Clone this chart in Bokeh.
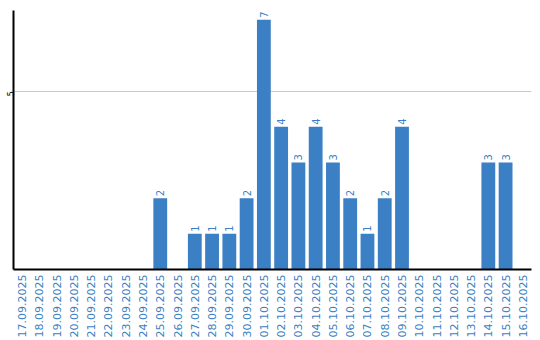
import math
from bokeh.plotting import figure
from bokeh.models import ColumnDataSource, FixedTicker, Range1d
from bokeh.core.properties import value
from bokeh.embed import file_html
from bokeh.resources import INLINE

dates = ["17.09.2025", "18.09.2025", "19.09.2025", "20.09.2025", "21.09.2025",
         "22.09.2025", "23.09.2025", "24.09.2025", "25.09.2025", "26.09.2025",
         "27.09.2025", "28.09.2025", "29.09.2025", "30.09.2025", "01.10.2025",
         "02.10.2025", "03.10.2025", "04.10.2025", "05.10.2025", "06.10.2025",
         "07.10.2025", "08.10.2025", "09.10.2025", "10.10.2025", "11.10.2025",
         "12.10.2025", "13.10.2025", "14.10.2025", "15.10.2025", "16.10.2025"]
counts = [0, 0, 0, 0, 0, 0, 0, 0, 2, 0,
          1, 1, 1, 2, 7, 4, 3, 4, 3, 2,
          1, 2, 4, 0, 0, 0, 0, 3, 3, 0]

BLUE = "#3b7fc4"
FONT = "DejaVu Sans"

src = ColumnDataSource(dict(x=dates, y=counts))
lab_dates = [d for d, c in zip(dates, counts) if c > 0]
lab_counts = [c for c in counts if c > 0]
lab_src = ColumnDataSource(dict(x=lab_dates, y=lab_counts, t=[str(c) for c in lab_counts]))

p = figure(x_range=dates, y_range=Range1d(0, 7.26), width=540, height=340,
           output_backend="svg", toolbar_location=None,
           min_border_left=0, min_border_right=9, min_border_top=10, min_border_bottom=0)
p.outline_line_color = None
p.background_fill_color = "white"

p.vbar(x="x", top="y", width=0.8, source=src, color=BLUE, line_color=None)
p.text(x="x", y="y", text="t", source=lab_src, angle=math.pi / 2,
       text_align="left", text_baseline="middle", text_font_size="10px",
       text_font=value(FONT), text_color=BLUE, y_offset=-2)

p.xgrid.grid_line_color = None
p.ygrid.ticker = FixedTicker(ticks=[5])
p.ygrid.grid_line_color = "#c8c8c8"

p.yaxis.ticker = FixedTicker(ticks=[5])
p.yaxis.major_label_orientation = math.pi / 2
p.yaxis.major_label_text_font_size = "8px"
p.yaxis.major_label_text_font = FONT
p.yaxis.major_label_text_color = "black"
p.yaxis.major_label_standoff = 3
p.yaxis.major_tick_out = 0
p.yaxis.major_tick_in = 0
p.yaxis.minor_tick_out = 0
p.yaxis.minor_tick_in = 0
p.yaxis.axis_line_color = "black"
p.yaxis.axis_line_width = 2

p.xaxis.major_label_orientation = math.pi / 2
p.xaxis.major_label_text_font_size = "11px"
p.xaxis.major_label_text_font = FONT
p.xaxis.major_label_text_color = BLUE
p.xaxis.major_label_standoff = 5
p.xaxis.major_tick_out = 0
p.xaxis.major_tick_in = 0
p.xaxis.axis_line_color = "black"
p.xaxis.axis_line_width = 2

open("out.html", "w").write(file_html(p, INLINE))
